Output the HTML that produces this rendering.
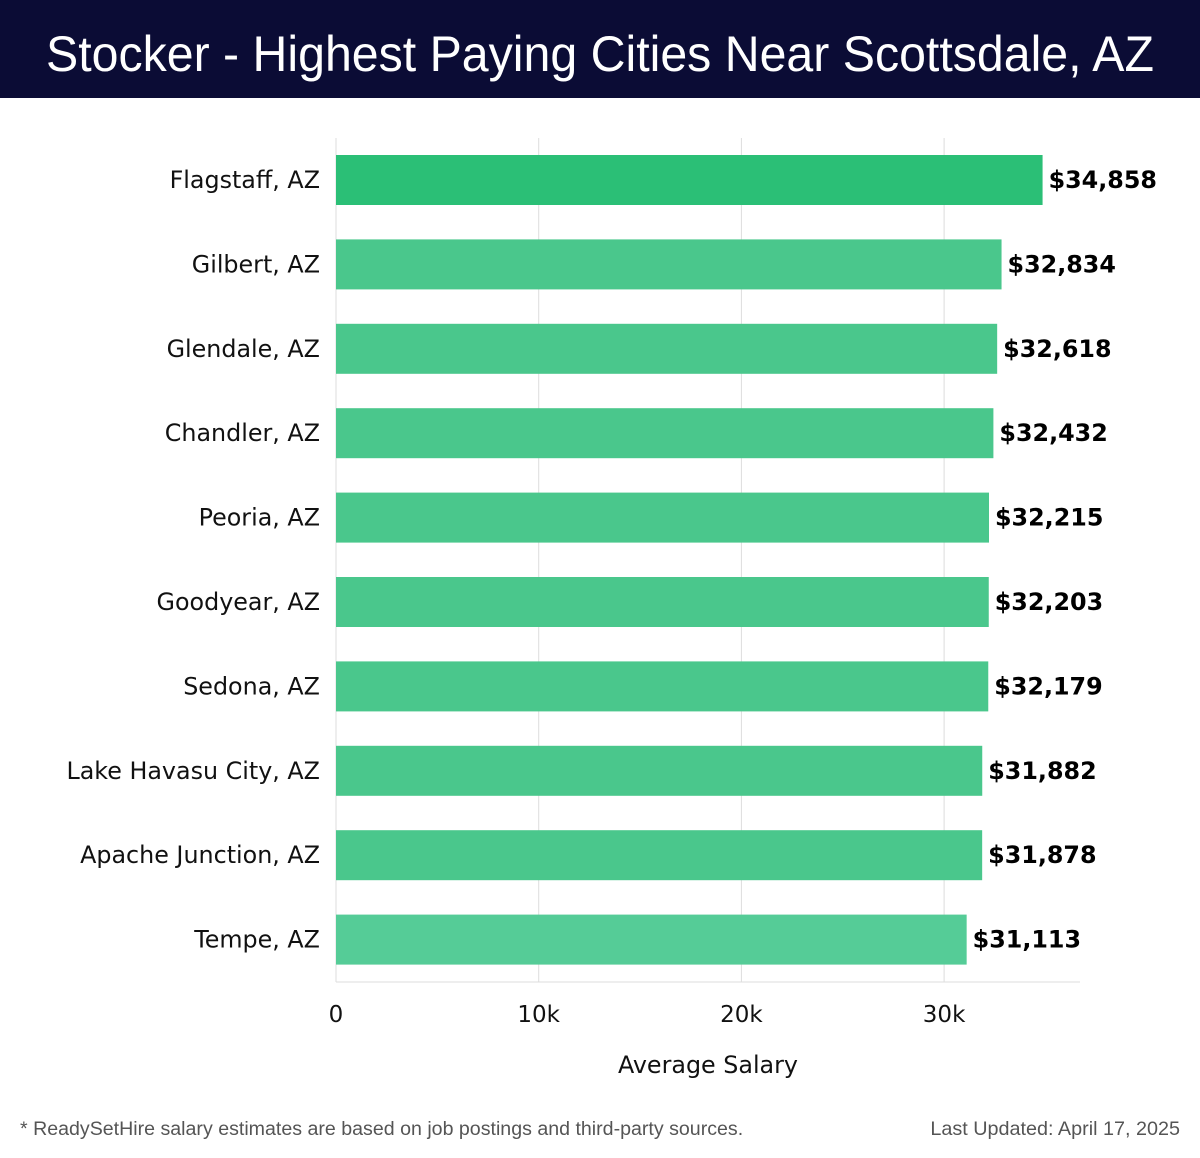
<!DOCTYPE html>
<html><head><meta charset="utf-8"><style>
body{margin:0;width:1200px;height:1158px;background:#fff;font-family:"DejaVu Sans","Liberation Sans",sans-serif;overflow:hidden;position:relative}
#hdr{position:absolute;left:0;top:0;width:1200px;height:98px;background:#0b0c35}
#foot1{position:absolute;left:20px;top:1118px;font-size:19.6px;color:#555;font-family:"Liberation Sans",sans-serif}
#foot2{position:absolute;right:20px;top:1118px;font-size:19.8px;color:#555;font-family:"Liberation Sans",sans-serif}
svg{position:absolute;left:0;top:0}
</style></head><body>
<div id="hdr">
<svg width="1200" height="98"><text x="46" y="71" textLength="1108" lengthAdjust="spacingAndGlyphs" font-size="50" fill="#fff" font-family="Liberation Sans, sans-serif">Stocker - Highest Paying Cities Near Scottsdale, AZ</text></svg>
</div>
<svg id="chart" width="1200" height="1100" style="top:0"></svg>
<div id="foot1">* ReadySetHire salary estimates are based on job postings and third-party sources.</div>
<div id="foot2">Last Updated: April 17, 2025</div>
<script>
const cities=["Flagstaff, AZ","Gilbert, AZ","Glendale, AZ","Chandler, AZ","Peoria, AZ","Goodyear, AZ","Sedona, AZ","Lake Havasu City, AZ","Apache Junction, AZ","Tempe, AZ"];
const salaries=[34858,32834,32618,32432,32215,32203,32179,31882,31878,31113];
const ticks=[0,10000,20000,30000];
const tickLabels=["0","10k","20k","30k"];
const NS="http://www.w3.org/2000/svg";
const svg=document.getElementById('chart');
const x0=336,pxPer=202.7/10000;
const xs=v=>x0+v*pxPer;
const top0=138,band=84.4;
const ys=i=>top0+band*i+17;
function mk(t,a,txt){const e=document.createElementNS(NS,t);for(const k in a)e.setAttribute(k,a[k]);if(txt!=null)e.textContent=txt;svg.appendChild(e);return e;}
ticks.forEach((t,i)=>{
 const g=mk('line',{x1:xs(t),x2:xs(t),y1:138,y2:982,stroke:'#dddddd','stroke-width':1});
 
 
 const l=mk('text',{x:xs(t),y:1022,'text-anchor':'middle','font-size':23,fill:'#111'},tickLabels[i]);
 
 
});
const ax=mk('line',{x1:336,x2:1080,y1:982,y2:982,stroke:'#dddddd','stroke-width':1});


cities.forEach((c,i)=>{
 const y=ys(i);
 const col=i===0?'#2bbf76':(i===cities.length-1?'#55cc97':'#4ac78c');
 const r=mk('rect',{x:x0,y:y,width:xs(salaries[i])-x0,height:50,fill:col});
 
 
 const l=mk('text',{x:320,y:y+33,'text-anchor':'end','font-size':23.8,fill:'#111'},c);
 
 
 const v=mk('text',{x:xs(salaries[i])+6,y:y+33,'font-size':23.8,'font-weight':'bold',fill:'#000'},'$'+salaries[i].toLocaleString('en-US'));
 
 
});
const t=mk('text',{x:708,y:1073,'text-anchor':'middle','font-size':23.8,fill:'#111'},'Average Salary');


</script>
</body></html>
